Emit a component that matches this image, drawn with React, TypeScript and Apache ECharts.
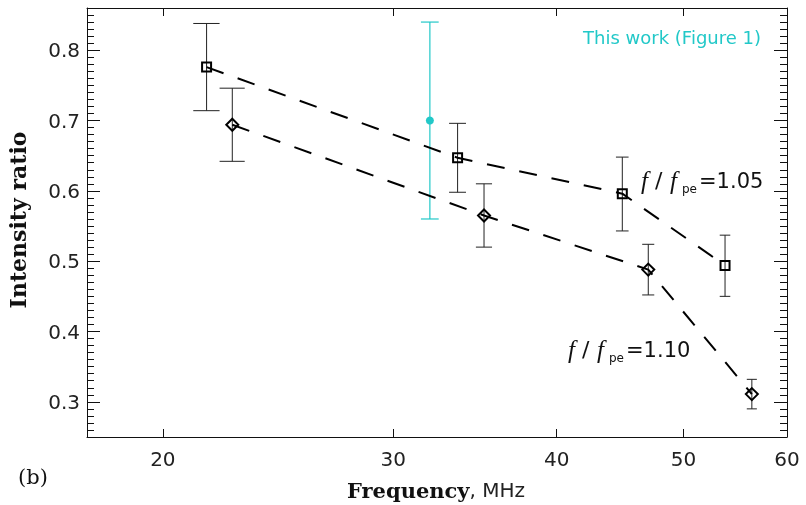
import { useEffect, useRef } from "react";
import * as echarts from "echarts";

// f/fpe = 1.05 (squares)
const freq105 = [21.6, 33.6, 44.9, 53.8];
const ratio105 = [0.776, 0.647, 0.596, 0.494];
const lo105 = [0.714, 0.598, 0.543, 0.45];
const hi105 = [0.838, 0.696, 0.648, 0.537];

// f/fpe = 1.10 (diamonds)
const freq110 = [22.6, 35.2, 47.0, 56.4];
const ratio110 = [0.694, 0.565, 0.488, 0.311];
const lo110 = [0.642, 0.52, 0.452, 0.29];
const hi110 = [0.746, 0.61, 0.524, 0.332];

// this work (Figure 1)
const freqObs = [32.0];
const ratioObs = [0.7];
const loObs = [0.56];
const hiObs = [0.84];

const xTicks = [20, 30, 40, 50, 60];
const yTicks = [0.3, 0.4, 0.5, 0.6, 0.7, 0.8];

const CAP = 0.5; // MHz, half width of the error bar caps
const CYAN = "#22c8c8";
const SANS = "DejaVu Sans";
const SERIF = "DejaVu Serif";
const ITALIC = "Liberation Serif";

function pairs(xs: number[], ys: number[]) {
  return xs.map((x, i) => [x, ys[i]]);
}

function errorSeries(xs: number[], lo: number[], hi: number[], color: string, width: number) {
  return {
    type: "custom",
    data: xs.map((x, i) => [x, lo[i], hi[i]]),
    encode: { x: 0, y: [1, 2] },
    z: 2,
    renderItem: (_params: any, api: any) => {
      const f = api.value(0);
      const top = api.coord([f, api.value(2)]);
      const bot = api.coord([f, api.value(1)]);
      const l = api.coord([f - CAP, api.value(2)])[0];
      const r = api.coord([f + CAP, api.value(2)])[0];
      const style = { stroke: color, lineWidth: width };
      return {
        type: "group",
        children: [
          { type: "line", shape: { x1: top[0], y1: top[1], x2: bot[0], y2: bot[1] }, style },
          { type: "line", shape: { x1: l, y1: top[1], x2: r, y2: top[1] }, style },
          { type: "line", shape: { x1: l, y1: bot[1], x2: r, y2: bot[1] }, style },
        ],
      };
    },
  };
}

// f/f_pe=value, built from pieces so the subscript can sit low
function ratioLabel(x: number, y: number, value: string) {
  const f = { fontFamily: ITALIC, fontStyle: "italic", fontSize: 25, fill: "#111", verticalAlign: "middle" };
  return {
    type: "group",
    children: [
      { type: "text", x: x + 1, y: y - 1, style: { ...f, text: "f" } },
      { type: "text", x: x + 15, y: y - 1, style: { ...f, fontStyle: "normal", fontFamily: SANS, fontSize: 22, text: "/" } },
      { type: "text", x: x + 30, y: y - 1, style: { ...f, text: "f" } },
      {
        type: "text",
        x: x + 42,
        y: y + 8,
        style: { text: "pe", fontFamily: SANS, fontSize: 12, fill: "#111", verticalAlign: "middle" },
      },
      {
        type: "text",
        x: x + 59,
        y,
        style: { text: value, fontFamily: SANS, fontSize: 21, fill: "#111", verticalAlign: "middle" },
      },
    ],
  };
}

export default function App() {
  const ref = useRef<HTMLDivElement>(null);

  useEffect(() => {
    if (!ref.current) return;
    const chart = echarts.init(ref.current, undefined, { renderer: "svg" });

    const axisLine = { show: true, lineStyle: { color: "#111", width: 1 } };
    const yBase = { type: "value", min: 0.25, max: 0.86, splitLine: { show: false }, axisLine };
    const xBase = { type: "log", logBase: 10, min: 17.5, max: 60, splitLine: { show: false }, axisLine };

    chart.setOption({
      animation: false,
      grid: { left: 87, right: 19, top: 8, bottom: 68 },
      xAxis: [
        {
          ...xBase,
          position: "bottom",
          axisTick: { inside: true, length: 8, customValues: xTicks, lineStyle: { color: "#111" } },
          axisLabel: {
            customValues: xTicks,
            margin: 12,
            fontFamily: SANS,
            fontSize: 20,
            color: "#222",
            formatter: (v: number) => String(Math.round(v)),
          },
        },
        {
          ...xBase,
          position: "top",
          axisTick: { inside: true, length: 8, customValues: xTicks, lineStyle: { color: "#111" } },
          axisLabel: { show: false },
        },
      ],
      yAxis: [
        {
          ...yBase,
          position: "left",
          axisTick: { inside: true, length: 13, customValues: yTicks, lineStyle: { color: "#111" } },
          axisLabel: {
            customValues: yTicks,
            margin: 7,
            fontFamily: SANS,
            fontSize: 20,
            color: "#222",
            formatter: (v: number) => v.toFixed(1),
          },
        },
        {
          ...yBase,
          position: "left",
          interval: 0.01,
          axisLine: { show: false },
          axisTick: { inside: true, length: 7, lineStyle: { color: "#111" } },
          axisLabel: { show: false },
        },
        {
          ...yBase,
          position: "right",
          axisTick: { inside: true, length: 13, customValues: yTicks, lineStyle: { color: "#111" } },
          axisLabel: { show: false },
        },
        {
          ...yBase,
          position: "right",
          interval: 0.01,
          axisLine: { show: false },
          axisTick: { inside: true, length: 7, lineStyle: { color: "#111" } },
          axisLabel: { show: false },
        },
      ],
      series: [
        errorSeries(freq105, lo105, hi105, "#222", 1),
        errorSeries(freq110, lo110, hi110, "#222", 1),
        errorSeries(freqObs, loObs, hiObs, CYAN, 1.2),
        {
          type: "line",
          data: pairs(freq105, ratio105),
          symbol: "none",
          z: 3,
          lineStyle: { color: "#000", width: 2, type: [18, 15] },
        },
        {
          type: "line",
          data: pairs(freq110, ratio110),
          symbol: "none",
          z: 3,
          lineStyle: { color: "#000", width: 2, type: [18, 15] },
        },
        {
          type: "scatter",
          data: pairs(freq105, ratio105),
          symbol: "rect",
          symbolSize: 9,
          z: 4,
          itemStyle: { color: "rgba(0,0,0,0)", borderColor: "#000", borderWidth: 2, opacity: 1 },
        },
        {
          type: "scatter",
          data: pairs(freq110, ratio110),
          symbol: "diamond",
          symbolSize: 12,
          z: 4,
          itemStyle: { color: "rgba(0,0,0,0)", borderColor: "#000", borderWidth: 2, opacity: 1 },
        },
        {
          type: "scatter",
          data: pairs(freqObs, ratioObs),
          symbol: "circle",
          symbolSize: 8,
          z: 4,
          itemStyle: { color: CYAN, opacity: 1 },
        },
      ],
      graphic: [
        {
          type: "text",
          x: 761,
          y: 37,
          style: {
            text: "This work (Figure 1)",
            fontFamily: SANS,
            fontSize: 18,
            fill: CYAN,
            align: "right",
            verticalAlign: "middle",
          },
        },
        ratioLabel(640, 181, "=1.05"),
        ratioLabel(567, 350, "=1.10"),
        {
          type: "text",
          x: 18,
          y: 220,
          rotation: Math.PI / 2,
          style: {
            text: "Intensity ratio",
            fontFamily: SERIF,
            fontWeight: "bold",
            fontSize: 22,
            fill: "#111",
            align: "center",
            verticalAlign: "middle",
          },
        },
        {
          type: "text",
          x: 436,
          y: 490,
          style: {
            text: "{b|Frequency}{n|, MHz}",
            align: "center",
            verticalAlign: "middle",
            rich: {
              b: { fontFamily: SERIF, fontWeight: "bold", fontSize: 21, fill: "#111" },
              n: { fontFamily: SANS, fontSize: 20, fill: "#222" },
            },
          },
        },
        {
          type: "text",
          x: 18,
          y: 477,
          style: { text: "(b)", fontFamily: SERIF, fontSize: 21, fill: "#111", verticalAlign: "middle" },
        },
      ],
    });

    return () => chart.dispose();
  }, []);

  return <div ref={ref} style={{ position: "fixed", left: 0, top: 0, width: 806, height: 505 }} />;
}
